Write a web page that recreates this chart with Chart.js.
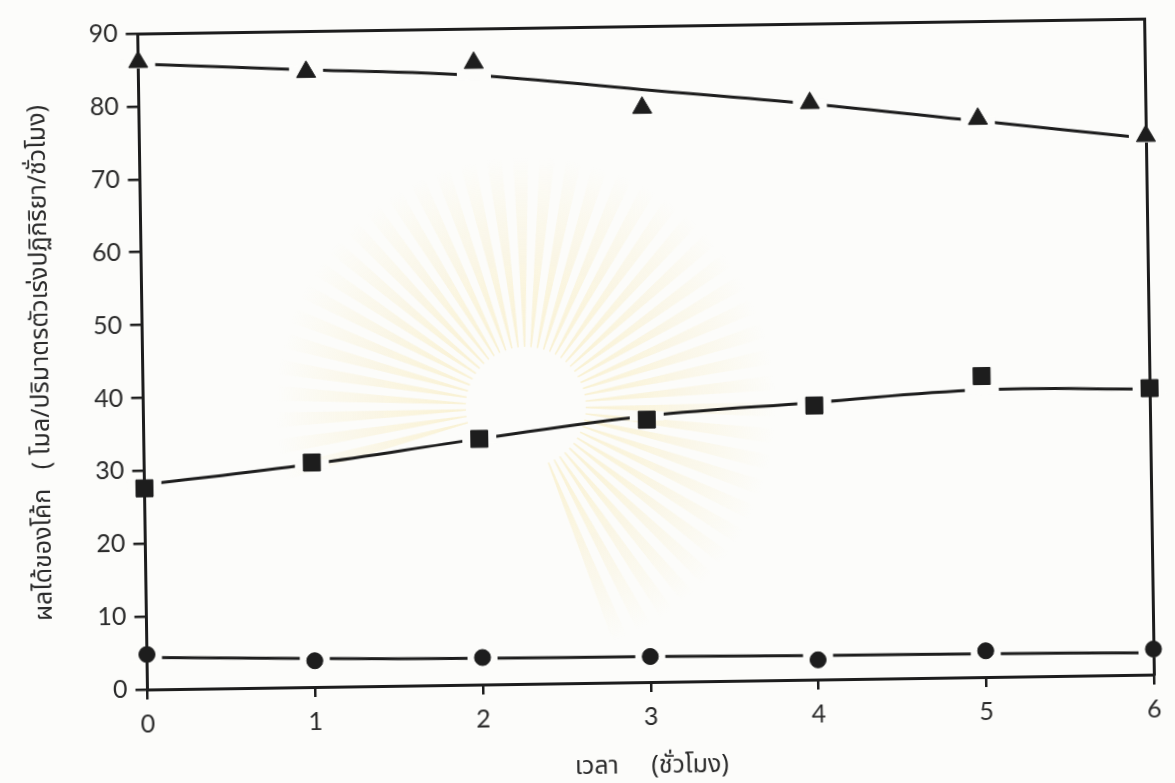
<!DOCTYPE html>
<html lang="th">
<head>
<meta charset="utf-8">
<title>ผลได้ของโค้ก</title>
<script src="https://cdn.jsdelivr.net/npm/chart.js@4/dist/chart.umd.min.js"></script>
<style>
  html, body { margin: 0; padding: 0; background: #fcfcfa; }
  #wrap {
    width: 1175px; height: 783px; position: relative; overflow: hidden;
  }
  #frame {
    position: absolute; left: 0; top: 0; width: 1175px; height: 783px;
    transform-origin: 650px 351px;
    transform: rotate(-0.85deg);
  }
  canvas { display: block; }
</style>
</head>
<body>
<div id="wrap"><div id="frame"><canvas id="chart" width="1175" height="783"></canvas></div></div>
<script>
// Time on stream (hours)
const hours = [0, 1, 2, 3, 4, 5, 6];

// Measured coke yields (mol / catalyst volume / hour)
const cokeTriangle = [86.1, 84.4, 85.3, 78.8, 79.1, 76.6, 73.9];
const cokeSquare   = [27.6, 30.8, 33.7, 36.0, 37.6, 41.3, 39.3];
const cokeCircle   = [4.8, 3.6, 3.7, 3.5, 2.7, 3.6, 3.5];

// Hand-drawn trend curves through each series
const trendTriangle = [85.8, 84.7, 83.6, 81.3, 79.0, 76.3, 73.6];
const trendSquare   = [28.1, 30.6, 33.7, 36.5, 38.0, 39.4, 39.2];
const trendCircle   = [4.4, 3.9, 3.6, 3.5, 3.3, 3.2, 3.0];

// Where the trend curve is broken around a marker (1 = broken)
const breaksTriangle = [1, 1, 1, 0, 1, 1, 1];
const breaksSquare   = [1, 1, 1, 1, 1, 1, 1];
const breaksCircle   = [1, 1, 1, 1, 1, 1, 1];

// Axis ticks
const yTicks = [0, 10, 20, 30, 40, 50, 60, 70, 80, 90];
const xTicks = hours;

const INK = '#1d1d1d';
const PAPER = '#fcfcfa';

const pts = (ys) => hours.map((h, i) => ({ x: h, y: ys[i] }));
const gapPts = (ys, flags) => hours.map((h, i) => ({ x: h, y: flags[i] ? ys[i] : null }));

function trendSet(ys) {
  return {
    type: 'line', data: pts(ys), order: 3, clip: false,
    borderColor: INK, borderWidth: 3, tension: 0.4,
    pointRadius: 0, fill: false
  };
}
function breakSet(ys, flags, half) {
  return {
    type: 'line', data: gapPts(ys, flags), order: 2, clip: false,
    showLine: false, pointStyle: 'line', pointRadius: half,
    pointBorderColor: PAPER, pointBorderWidth: 9, pointBackgroundColor: PAPER
  };
}
function markerSet(ys, style, r) {
  return {
    type: 'line', data: pts(ys), order: 1, clip: false,
    showLine: false, pointStyle: style, pointRadius: r,
    pointBackgroundColor: INK, pointBorderColor: INK, pointBorderWidth: 1
  };
}

// Faint university emblem printed behind the plot
const emblem = {
  id: 'emblem',
  beforeDraw(chart) {
    const { ctx } = chart;
    const cx = 525, cy = 405;
    ctx.save();
    for (let i = 0; i < 44; i++) {
      const a = Math.PI * (0.92 + i * 0.034);
      const w = 0.012;
      const g = ctx.createRadialGradient(cx, cy, 55, cx, cy, 250);
      g.addColorStop(0, 'rgba(246,228,160,0.45)');
      g.addColorStop(1, 'rgba(246,228,160,0)');
      ctx.fillStyle = g;
      ctx.beginPath();
      ctx.moveTo(cx + Math.cos(a - w) * 60, cy + Math.sin(a - w) * 60);
      ctx.lineTo(cx + Math.cos(a - w * 2.5) * 250, cy + Math.sin(a - w * 2.5) * 250);
      ctx.lineTo(cx + Math.cos(a + w * 2.5) * 250, cy + Math.sin(a + w * 2.5) * 250);
      ctx.lineTo(cx + Math.cos(a + w) * 60, cy + Math.sin(a + w) * 60);
      ctx.closePath();
      ctx.fill();
    }
    ctx.restore();
  }
};

const tickFont = { family: 'Lato, "Open Sans", sans-serif', size: 25 };
const titleFont = { family: '"Noto Sans Thai", "Noto Sans", "DejaVu Sans", sans-serif', size: 25 };

new Chart(document.getElementById('chart'), {
  data: {
    datasets: [
      trendSet(trendTriangle), trendSet(trendSquare), trendSet(trendCircle),
      breakSet(trendTriangle, breaksTriangle, 17),
      breakSet(trendSquare, breaksSquare, 17),
      breakSet(trendCircle, breaksCircle, 15),
      markerSet(cokeTriangle, 'triangle', 11),
      markerSet(cokeSquare, 'rect', 12),
      markerSet(cokeCircle, 'circle', 8)
    ]
  },
  options: {
    responsive: false,
    animation: false,
    events: [],
    layout: { padding: { left: 0, right: 17.5, top: 20, bottom: 0 } },
    plugins: { legend: { display: false }, tooltip: { enabled: false } },
    scales: {
      x: {
        type: 'linear', min: 0, max: 6,
        afterBuildTicks: (s) => { s.ticks = xTicks.map(v => ({ value: v })); },
        afterFit: (s) => { s.height = 101; },
        grid: { drawOnChartArea: false, drawTicks: true, tickLength: 10, color: INK, lineWidth: 2.5 },
        border: { display: true, color: INK, width: 3 },
        ticks: { color: '#2a2a2a', font: tickFont, padding: 10, maxRotation: 0 },
        title: { display: true, text: 'เวลา     (ชั่วโมง)', color: '#2a2a2a', font: titleFont, padding: { top: 0, bottom: 0 } }
      },
      y: {
        type: 'linear', min: 0, max: 90,
        afterBuildTicks: (s) => { s.ticks = yTicks.map(v => ({ value: v })); },
        afterFit: (s) => { s.width = 142.5; },
        grid: { drawOnChartArea: false, drawTicks: true, tickLength: 12, color: INK, lineWidth: 2.5 },
        border: { display: true, color: INK, width: 3 },
        ticks: { color: '#2a2a2a', font: tickFont, padding: 8 },
        title: { display: true, text: 'ผลได้ของโค้ก   ( โมล/ปริมาตรตัวเร่งปฏิกิริยา/ชั่วโมง)', color: '#2a2a2a', font: titleFont, padding: { top: 28, bottom: 0 } }
      },
      xTop: {
        type: 'linear', position: 'top', min: 0, max: 6,
        afterFit: (s) => { s.height = 0; },
        grid: { display: false, drawOnChartArea: false, drawTicks: false },
        border: { display: true, color: INK, width: 3 },
        ticks: { display: false }
      },
      yRight: {
        type: 'linear', position: 'right', min: 0, max: 90,
        afterFit: (s) => { s.width = 0; },
        grid: { display: false, drawOnChartArea: false, drawTicks: false },
        border: { display: true, color: INK, width: 3 },
        ticks: { display: false }
      }
    }
  },
  plugins: [emblem]
});
</script>
</body>
</html>
